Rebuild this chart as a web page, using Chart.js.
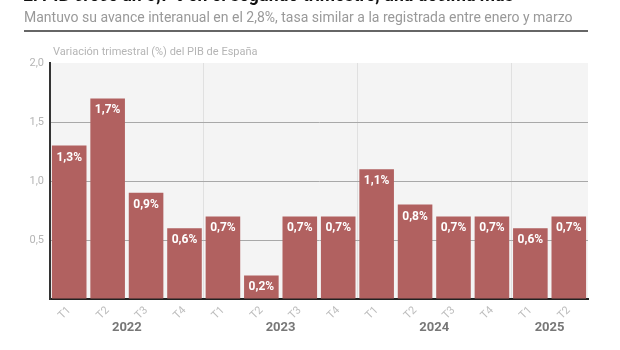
<!DOCTYPE html>
<html lang="es">
<head>
<meta charset="utf-8">
<script src="https://cdn.jsdelivr.net/npm/chart.js@4.4.1/dist/chart.umd.min.js"></script>
<style>
    html, body { margin: 0; padding: 0; background: #fff; }
    body { width: 620px; height: 350px; position: relative; overflow: hidden; font-family: Roboto, "Noto Sans", sans-serif; }
    #title { position: absolute; left: 23px; top: -15px; font-size: 17.6px; font-weight: 700; color: #111; white-space: nowrap; }
    #subtitle { position: absolute; left: 24px; top: 9px; font-size: 14px; color: #999; white-space: nowrap; }
    #rule { position: absolute; left: 24px; top: 30px; width: 564px; height: 2px; background: #666; }
    #caption { position: absolute; left: 53px; top: 45px; font-size: 11px; color: #b5b5b5; white-space: nowrap; }
    #wrap { position: absolute; left: 0; top: 0; width: 620px; height: 350px; }
</style>
</head>
<body>
<div id="wrap"><canvas id="gdpChart" width="620" height="350"></canvas></div>
<div id="title">El PIB crece un 0,7% en el segundo trimestre, una décima más</div>
<div id="subtitle">Mantuvo su avance interanual en el 2,8%, tasa similar a la registrada entre enero y marzo</div>
<div id="rule"></div>
<div id="caption">Variación trimestral (%) del PIB de España</div>
<script>
// ------------ DATA -------------
const quarters = ["T1", "T2", "T3", "T4", "T1", "T2", "T3", "T4", "T1", "T2", "T3", "T4", "T1", "T2"];
const years = ["2022", "2022", "2022", "2022", "2023", "2023", "2023", "2023", "2024", "2024", "2024", "2024", "2025", "2025"];
const gdpChange = [1.3, 1.7, 0.9, 0.6, 0.7, 0.2, 0.7, 0.7, 1.1, 0.8, 0.7, 0.7, 0.6, 0.7];
const yTicks = [0, 0.5, 1.0, 1.5, 2.0];

const BAR_COLOR = "#b16160";
const fmt = v => v.toFixed(1).replace(".", ",");

// grey plot background
const plotBackground = {
    id: "plotBackground",
    beforeDraw(chart) {
        const { ctx, chartArea: a } = chart;
        ctx.save();
        ctx.fillStyle = "#f4f4f4";
        ctx.fillRect(a.left, a.top, a.right - a.left, a.bottom - a.top);
        ctx.restore();
    }
};

// value labels inside the top of each bar
const barLabels = {
    id: "barLabels",
    afterDatasetsDraw(chart) {
        const ctx = chart.ctx;
        const meta = chart.getDatasetMeta(0);
        ctx.save();
        ctx.fillStyle = "#ffffff";
        ctx.font = "bold 12px Roboto";
        ctx.textAlign = "center";
        ctx.textBaseline = "middle";
        meta.data.forEach((bar, i) => {
            ctx.fillText(fmt(gdpChange[i]) + "%", bar.x, bar.y + 12);
        });
        ctx.restore();
    }
};

// year labels under the quarter ticks
const yearLabels = {
    id: "yearLabels",
    afterDraw(chart) {
        const ctx = chart.ctx;
        const x = chart.scales.x;
        const groups = [];
        years.forEach((y, i) => {
            const last = groups[groups.length - 1];
            if (last && last.year === y) last.end = i;
            else groups.push({ year: y, start: i, end: i });
        });
        ctx.save();
        ctx.fillStyle = "#777";
        ctx.font = "bold 13px Roboto";
        ctx.textAlign = "center";
        ctx.textBaseline = "middle";
        groups.forEach(g => {
            const cx = (x.getPixelForValue(g.start) + x.getPixelForValue(g.end)) / 2;
            ctx.fillText(g.year, cx, 328);
        });
        ctx.restore();
    }
};

const groupEnds = [];
years.forEach((y, i) => { if (i > 0 && years[i - 1] !== y) groupEnds.push(i); });

new Chart(document.getElementById("gdpChart"), {
    type: "bar",
    data: {
        labels: quarters,
        datasets: [{
            data: gdpChange,
            backgroundColor: BAR_COLOR,
            borderWidth: 0,
            barPercentage: 0.9,
            categoryPercentage: 1.0
        }]
    },
    options: {
        responsive: false,
        animation: false,
        devicePixelRatio: 1,
        layout: { padding: { top: 63, right: 32, left: 0, bottom: 0 } },
        plugins: {
            legend: { display: false },
            tooltip: { enabled: false }
        },
        scales: {
            x: {
                afterFit(scale) { scale.height = 51; },
                border: { color: "#222", width: 2 },
                grid: {
                    offset: true,
                    drawTicks: false,
                    color: ctx => groupEnds.includes(ctx.index) ? "#e0e0e0" : "rgba(0,0,0,0)"
                },
                ticks: {
                    color: "#bdbdbd",
                    font: { family: "Roboto", size: 11 },
                    autoSkip: false,
                    maxRotation: 45,
                    minRotation: 45,
                    padding: 5
                }
            },
            y: {
                min: 0,
                max: 2,
                afterFit(scale) { scale.width = 50; },
                afterBuildTicks(scale) { scale.ticks = yTicks.map(v => ({ value: v })); },
                border: { color: "#333", width: 2 },
                grid: {
                    drawTicks: false,
                    color: ctx => (ctx.tick && ctx.tick.value > 0 && ctx.tick.value < 2) ? "#a8a8a8" : "rgba(0,0,0,0)"
                },
                ticks: {
                    color: "#b5b5b5",
                    font: { family: "Roboto", size: 11 },
                    padding: 6,
                    callback: v => v === 0 ? "" : fmt(v)
                }
            }
        }
    },
    plugins: [plotBackground, barLabels, yearLabels]
});
</script>
</body>
</html>
